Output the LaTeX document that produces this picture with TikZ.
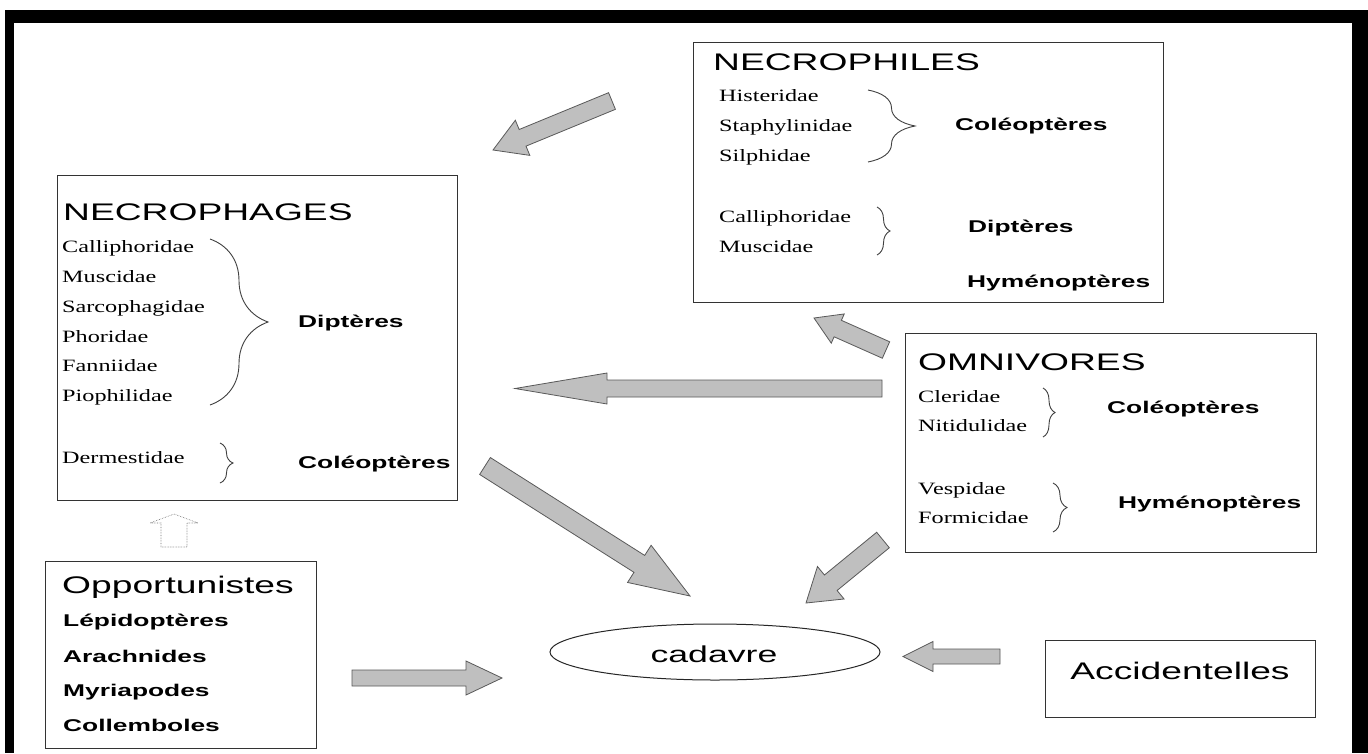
\documentclass[tikz,border=0pt]{standalone}
\usepackage{fontspec}
\setmainfont{Liberation Sans}
\newfontfamily\sansw[FakeStretch=1.55]{Liberation Sans}
\newfontfamily\serifw[FakeStretch=1.4]{Liberation Serif}
\usetikzlibrary{calc,decorations.pathreplacing,shapes.geometric}
\tikzset{
  boxframe/.style={draw=black!80, line width=1.2pt, inner sep=0, anchor=north west},
  titletext/.style={anchor=base west, inner sep=0, font=\sansw\fontsize{24}{24}\selectfont},
  famname/.style={anchor=base west, inner sep=0, font=\serifw\fontsize{17.3}{17}\selectfont},
  ordertext/.style={anchor=base west, inner sep=0, font=\sansw\bfseries\fontsize{17}{17}\selectfont},
  grp/.style={decorate, decoration={brace, amplitude=#1}, draw=black!75, line width=0.9pt},
  fat/.style={fill=black!25, draw=black!65, line width=0.8pt, line join=miter},
  hollow/.style={fill=white, draw=black!55, line width=0.6pt, densely dotted},
}
\newcommand{\fatarrow}[6][fat]{%
  \path ($(#3)!#6!(#2)$) coordinate (hb);
  \draw[#1] ($(#2)!#4!90:(#3)$) -- ($(hb)!#4!90:(#3)$) -- ($(hb)!#5!90:(#3)$) -- (#3)
    -- ($(hb)!#5!-90:(#3)$) -- ($(hb)!#4!-90:(#3)$) -- ($(#2)!#4!-90:(#3)$) -- cycle;
}
\begin{document}
\begin{tikzpicture}[x=1pt,y=-1pt]
\useasboundingbox (0,0) rectangle (1368,753);
% frame
\fill[white] (0,0) rectangle (1368,753);
\fill[black] (5,10) rectangle (1368,753);
\fill[white] (14,23) rectangle (1352,753);

% NECROPHAGES
\node[boxframe, minimum width=400pt, minimum height=325pt] (phages) at (57,175) {};
\node[titletext] (phagesT) at (63,220) {NECROPHAGES};
\node[famname] (p1) at (62,252) {Calliphoridae};
\node[famname] (p2) at (62,282) {Muscidae};
\node[famname] (p3) at (62,312) {Sarcophagidae};
\node[famname] (p4) at (62,342) {Phoridae};
\node[famname] (p5) at (62,371) {Fanniidae};
\node[famname] (p6) at (62,401) {Piophilidae};
\draw[grp=58pt] (210,239) -- (210,405);
\node[ordertext] (pD) at (298,327) {Diptères};
\node[famname] (p7) at (62,463) {Dermestidae};
\draw[grp=13pt] (220,443) -- (220,483);
\node[ordertext] (pC) at (298,468) {Coléoptères};

% NECROPHILES
\node[boxframe, minimum width=470pt, minimum height=260pt] (philes) at (693,42) {};
\node[titletext] (philesT) at (713,70) {NECROPHILES};
\node[famname] (h1) at (719,101) {Histeridae};
\node[famname] (h2) at (719,131) {Staphylinidae};
\node[famname] (h3) at (719,161) {Silphidae};
\draw[grp=47pt] (868,90) -- (868,162);
\node[ordertext] (hC) at (955,130) {Coléoptères};
\node[famname] (h4) at (719,222) {Calliphoridae};
\node[famname] (h5) at (719,252) {Muscidae};
\draw[grp=13pt] (877,207) -- (877,255);
\node[ordertext] (hD) at (968,232) {Diptères};
\node[ordertext] (hH) at (967,287) {Hyménoptères};

% OMNIVORES
\node[boxframe, minimum width=411pt, minimum height=219pt] (omni) at (905,333) {};
\node[titletext] (omniT) at (918,370) {OMNIVORES};
\node[famname] (o1) at (918,402) {Cleridae};
\node[famname] (o2) at (918,431) {Nitidulidae};
\draw[grp=12pt] (1043,388) -- (1043,437);
\node[ordertext] (oC) at (1107,413) {Coléoptères};
\node[famname] (o3) at (918,494) {Vespidae};
\node[famname] (o4) at (918,523) {Formicidae};
\draw[grp=14pt] (1053,483) -- (1053,532);
\node[ordertext] (oH) at (1118,508) {Hyménoptères};

% Opportunistes
\node[boxframe, minimum width=271pt, minimum height=187pt] (opp) at (45,561) {};
\node[titletext] (oppT) at (62,593) {Opportunistes};
\node[ordertext] (q1) at (63,626) {Lépidoptères};
\node[ordertext] (q2) at (63,662) {Arachnides};
\node[ordertext] (q3) at (63,696) {Myriapodes};
\node[ordertext] (q4) at (63,731) {Collemboles};

% cadavre
\node[draw=black!85, line width=1pt, ellipse, minimum width=330pt, minimum height=56pt, inner sep=0] (cadavre) at (715,652) {};
\node[anchor=base, inner sep=0, font=\sansw\fontsize{23}{23}\selectfont] (cadT) at (714,662) {cadavre};

% Accidentelles
\node[boxframe, minimum width=270pt, minimum height=77pt] (acc) at (1045,640) {};
\node[anchor=base, inner sep=0, font=\sansw\fontsize{24}{24}\selectfont] (accT) at (1180,679) {Accidentelles};

% arrows
\coordinate (a1t) at (612,101); \coordinate (a1h) at (493,150);
\coordinate (a2t) at (886,350); \coordinate (a2h) at (814,318);
\coordinate (a3t) at (882,388.5); \coordinate (a3h) at (515,388.5);
\coordinate (a4t) at (485,466); \coordinate (a4h) at (690,596);
\coordinate (a5t) at (883,540); \coordinate (a5h) at (806,603);
\coordinate (a6t) at (352,678); \coordinate (a6h) at (502,678);
\coordinate (a7t) at (1000,656.5); \coordinate (a7h) at (903,656.5);
\coordinate (a8t) at (174,547); \coordinate (a8h) at (174,514);
\fatarrow{a1t}{a1h}{9pt}{19pt}{32pt}
\fatarrow{a2t}{a2h}{9pt}{16pt}{26pt}
\fatarrow{a3t}{a3h}{8.5pt}{15.5pt}{92pt}
\fatarrow{a4t}{a4h}{10pt}{22pt}{60pt}
\fatarrow{a5t}{a5h}{10pt}{21pt}{32pt}
\fatarrow{a6t}{a6h}{8pt}{17pt}{36pt}
\fatarrow{a7t}{a7h}{7.5pt}{15pt}{30pt}
\fatarrow[hollow]{a8t}{a8h}{13pt}{24pt}{9pt}
\end{tikzpicture}
\end{document}
